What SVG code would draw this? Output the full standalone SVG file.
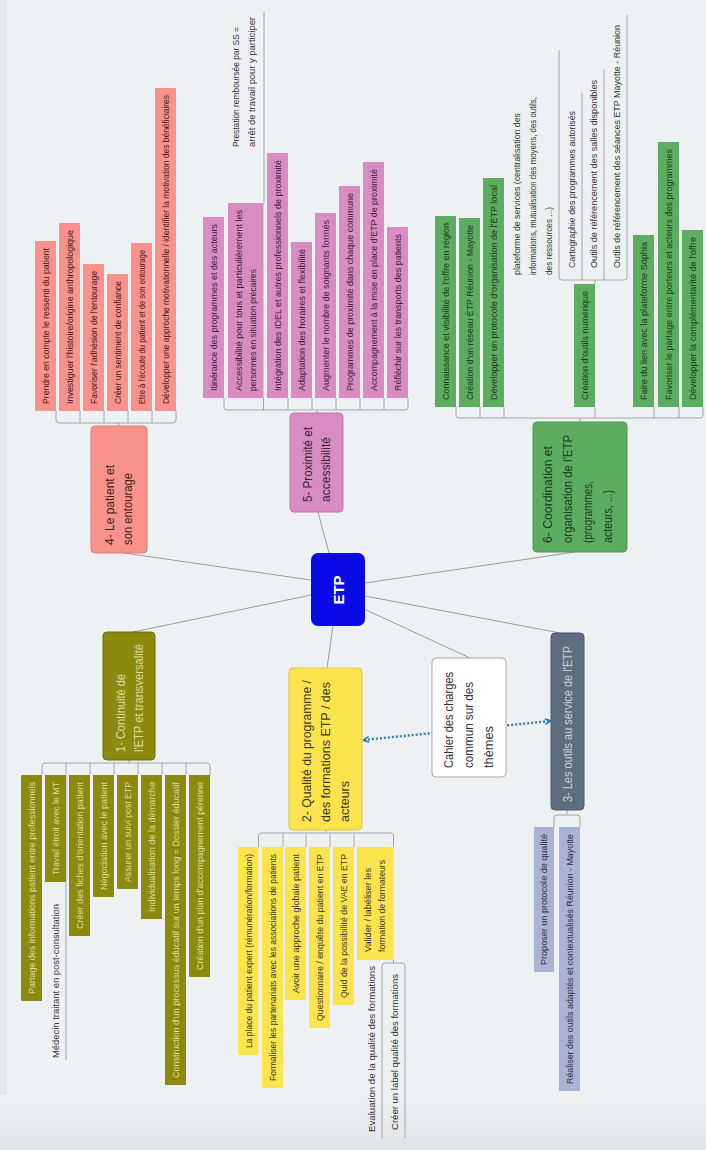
<svg xmlns="http://www.w3.org/2000/svg" width="706" height="1150" viewBox="0 0 706 1150">
<defs>
<linearGradient id="bot" x1="0" y1="0" x2="0" y2="1"><stop offset="0" stop-color="#eef1f3"/><stop offset="1" stop-color="#e1e4e6"/></linearGradient>
<marker id="arr" viewBox="0 0 10 10" refX="8" refY="5" markerWidth="7" markerHeight="7" markerUnits="userSpaceOnUse" orient="auto-start-reverse"><path d="M1,1 L9,5 L1,9" fill="none" stroke="#1f7cc4" stroke-width="2.2"/></marker>
</defs>
<style>
text{font-family:"Liberation Sans",Arial,sans-serif}
.s9{font-size:9px}
.s12{font-size:12px}
.ln{stroke:#9c9c9c;stroke-width:1;fill:none}
.br{stroke:#a4a4a4;stroke-width:1;fill:none}
.rel{stroke:#2a80c0;stroke-width:2.4;stroke-dasharray:2 2;fill:none}
.ol rect{fill:#8b8a0e}.ol text{fill:#dedba0}
.ye rect{fill:#fce44e}.ye text{fill:#3a3a30}
.sl rect{fill:#5e6e7c}.sl text{fill:#c8d0d8}
.lv rect{fill:#a8b3d6}.lv text{fill:#2e3340}
.sa rect{fill:#f8928a}.sa text{fill:#3a2424}
.pk rect{fill:#d98cc2}.pk text{fill:#3a2436}
.gr rect{fill:#5cad60}.gr text{fill:#1f3a1f}
.pl text{fill:#333}
.main rect{stroke-width:1}
</style>
<rect width="706" height="1150" fill="#eef1f3"/>
<rect x="0" y="0" width="7" height="1150" fill="#e4e7e9"/>
<rect x="0" y="1095" width="706" height="55" fill="url(#bot)"/>

<g id="connectors">
<path class="ln" d="M311,595 L133,632"/>
<path class="ln" d="M311,580 L124,553"/>
<path class="ln" d="M329,553 L318,512"/>
<path class="ln" d="M365,583 L575,552"/>
<path class="ln" d="M365,596 L560,633"/>
<path class="ln" d="M362,608 L470,658"/>
<path class="ln" d="M333,626 L327,668"/>
<path class="rel" d="M364,740 L550,721" marker-start="url(#arr)" marker-end="url(#arr)"/>
<!-- node 4 bracket -->
<path class="br" d="M56,411 V420 Q56,423 59,423 H173 Q176,423 176,420 V411 M80,423 V411 M104,423 V411 M128,423 V411 M152,423 V411 M119,423 V426"/>
<!-- node 5 bracket -->
<path class="br" d="M224,398 V407 Q224,410 227,410 H405 Q408,410 408,407 V398 M263.5,410 V398 M288,410 V398 M312,410 V398 M336,410 V398 M360,410 V398 M384,410 V398 M317,410 V413"/>
<path class="br" d="M264,203 V12"/>
<!-- node 6 bracket -->
<path class="br" d="M456,407 V415 Q456,418 459,418 H700 Q703,418 703,415 V407 M480,418 V407 M504,418 V407 M595,418 V407 M654,418 V407 M679,418 V407 M580,418 V422"/>
<path class="br" d="M559,50 V277 Q559,280 562,280 H624 Q627,280 627,277 V15 M582,280 V93 M604,280 V70 M595,280 V284"/>
<!-- node 1 bracket -->
<path class="br" d="M42,775 V766 Q42,763 45,763 H207 Q210,763 210,766 V775 M66,763 V1060 M90,763 V775 M114,763 V775 M138,763 V775 M162,763 V775 M186,763 V775 M129,760 V763"/>
<!-- node 2 bracket -->
<path class="br" d="M258.5,847 V836 Q258.5,833 261.5,833 H390.5 Q393.5,833 393.5,836 V847 M283,833 V847 M306,833 V847 M330,833 V847 M354,833 V847 M326,830 V833"/>
<path class="br" d="M382,1138 V966 Q382,963 385,963 H402 Q405,963 405,966 V1138 M393.5,960 V963"/>
<!-- node 3 bracket -->
<path class="br" d="M554,827 V818 Q554,815 557,815 H577 Q580,815 580,818 V827 M567,810 V815"/>
</g>

<g id="etp"><rect x="311" y="553" width="54" height="73" rx="7" fill="#0b0be8"/><text transform="translate(343.5,590) rotate(-90)" text-anchor="middle" font-size="15" font-weight="bold" fill="#ffffff">ETP</text></g>

<!-- Node 1 -->
<g id="n1" class="ol main"><rect x="103" y="632" width="52" height="128" rx="4" stroke="#6f6e08"/>
<text class="s12" transform="translate(125.2,752) rotate(-90)" textLength="78" lengthAdjust="spacingAndGlyphs">1- Continuité de</text>
<text class="s12" transform="translate(143.2,752) rotate(-90)" textLength="108" lengthAdjust="spacingAndGlyphs">l'ETP et transversalité</text></g>
<g id="n1a" class="ol"><rect x="21" y="775" width="21" height="226"/><text class="s9" transform="translate(34.7,994) rotate(-90)" textLength="212" lengthAdjust="spacingAndGlyphs">Partage des informations patient entre professionnels</text></g>
<g id="n1b" class="ol"><rect x="45" y="775" width="21" height="107"/><text class="s9" transform="translate(58.7,875) rotate(-90)" textLength="93" lengthAdjust="spacingAndGlyphs">Travail étroit avec le MT</text></g>
<g id="n1b1" class="pl"><text class="s9" transform="translate(59.2,1058) rotate(-90)" textLength="154" lengthAdjust="spacingAndGlyphs">Médecin traitant en post-consultation</text></g>
<g id="n1c" class="ol"><rect x="69" y="775" width="21" height="161"/><text class="s9" transform="translate(82.7,929) rotate(-90)" textLength="147" lengthAdjust="spacingAndGlyphs">Créer des fiches d'orientation patient</text></g>
<g id="n1d" class="ol"><rect x="93" y="775" width="21" height="122"/><text class="s9" transform="translate(106.7,890) rotate(-90)" textLength="108" lengthAdjust="spacingAndGlyphs">Négociation avec le patient</text></g>
<g id="n1e" class="ol"><rect x="117" y="775" width="21" height="114"/><text class="s9" transform="translate(130.7,882) rotate(-90)" textLength="100" lengthAdjust="spacingAndGlyphs">Assurer un suivi post ETP</text></g>
<g id="n1f" class="ol"><rect x="141" y="775" width="21" height="144"/><text class="s9" transform="translate(154.7,912) rotate(-90)" textLength="130" lengthAdjust="spacingAndGlyphs">Individualisation de la démarche</text></g>
<g id="n1g" class="ol"><rect x="165" y="775" width="21" height="310"/><text class="s9" transform="translate(178.7,1078) rotate(-90)" textLength="296" lengthAdjust="spacingAndGlyphs">Construction d'un processus éducatif sur un temps long = Dossier éducatif</text></g>
<g id="n1h" class="ol"><rect x="189" y="775" width="21" height="202"/><text class="s9" transform="translate(202.7,970) rotate(-90)" textLength="188" lengthAdjust="spacingAndGlyphs">Création d'un plan d'accompagnement pérenne</text></g>

<!-- Node 2 -->
<g id="n2" class="ye main"><rect x="289" y="668" width="73" height="162" rx="4" stroke="#e0c83a"/>
<text class="s12" transform="translate(311.4,822) rotate(-90)" textLength="142" lengthAdjust="spacingAndGlyphs">2- Qualité du programme /</text>
<text class="s12" transform="translate(330.4,822) rotate(-90)" textLength="140" lengthAdjust="spacingAndGlyphs">des formations ETP / des</text>
<text class="s12" transform="translate(349.4,822) rotate(-90)" textLength="41" lengthAdjust="spacingAndGlyphs">acteurs</text></g>
<g id="n2a" class="ye"><rect x="238" y="847" width="20.5" height="208"/><text class="s9" transform="translate(251.5,1048) rotate(-90)" textLength="194" lengthAdjust="spacingAndGlyphs">La place du patient expert (rémunération/formation)</text></g>
<g id="n2b" class="ye"><rect x="262" y="847" width="21" height="241"/><text class="s9" transform="translate(275.7,1081) rotate(-90)" textLength="227" lengthAdjust="spacingAndGlyphs">Formaliser les partenariats avec les associations de patients</text></g>
<g id="n2c" class="ye"><rect x="285" y="847" width="21" height="153"/><text class="s9" transform="translate(298.7,993) rotate(-90)" textLength="139" lengthAdjust="spacingAndGlyphs">Avoir une approche globale patient</text></g>
<g id="n2d" class="ye"><rect x="309" y="847" width="21" height="181"/><text class="s9" transform="translate(322.7,1021) rotate(-90)" textLength="167" lengthAdjust="spacingAndGlyphs">Questionnaire / enquête du patient en ETP</text></g>
<g id="n2e" class="ye"><rect x="333" y="847" width="21" height="158"/><text class="s9" transform="translate(346.7,998) rotate(-90)" textLength="144" lengthAdjust="spacingAndGlyphs">Quid de la possibilité de VAE en ETP</text></g>
<g id="n2f" class="ye"><rect x="357" y="847" width="36.5" height="113"/>
<text class="s9" transform="translate(371.2,952) rotate(-90)" textLength="84" lengthAdjust="spacingAndGlyphs">Valider / labéliser les</text>
<text class="s9" transform="translate(385.2,952) rotate(-90)" textLength="92" lengthAdjust="spacingAndGlyphs">formation de formateurs</text></g>
<g id="n2f1" class="pl"><text class="s9" transform="translate(375.2,1132) rotate(-90)" textLength="166" lengthAdjust="spacingAndGlyphs">Evaluation de la qualité des formations</text></g>
<g id="n2f2" class="pl"><text class="s9" transform="translate(398.2,1130) rotate(-90)" textLength="156" lengthAdjust="spacingAndGlyphs">Créer un label qualité des formations</text></g>

<!-- Cahier -->
<g id="cahier" class="pl"><rect x="432" y="658" width="74" height="119" rx="4" fill="#ffffff" stroke="#a8a8a8"/>
<text class="s12" transform="translate(453.2,768) rotate(-90)" textLength="96" lengthAdjust="spacingAndGlyphs">Cahier des charges</text>
<text class="s12" transform="translate(473.2,768) rotate(-90)" textLength="86" lengthAdjust="spacingAndGlyphs">commun sur des</text>
<text class="s12" transform="translate(493.2,768) rotate(-90)" textLength="42" lengthAdjust="spacingAndGlyphs">thèmes</text></g>

<!-- Node 3 -->
<g id="n3" class="sl main"><rect x="551" y="633" width="33" height="177" rx="4" stroke="#4c5a66"/>
<text class="s12" transform="translate(571.7,802) rotate(-90)" textLength="156" lengthAdjust="spacingAndGlyphs">3- Les outils au service de l'ETP</text></g>
<g id="n3a" class="lv"><rect x="534" y="827" width="20" height="145"/><text class="s9" transform="translate(547.2,965) rotate(-90)" textLength="131" lengthAdjust="spacingAndGlyphs">Proposer un protocole de qualité</text></g>
<g id="n3b" class="lv"><rect x="559" y="827" width="21" height="264"/><text class="s9" transform="translate(572.7,1084) rotate(-90)" textLength="250" lengthAdjust="spacingAndGlyphs">Réaliser des outils adaptés et contextualisés Réunion - Mayotte</text></g>

<!-- Node 4 -->
<g id="n4" class="sa main"><rect x="91" y="426" width="56" height="127" rx="4" stroke="#e07a72"/>
<text class="s12" transform="translate(114.2,545) rotate(-90)" textLength="80" lengthAdjust="spacingAndGlyphs">4- Le patient et</text>
<text class="s12" transform="translate(132.2,545) rotate(-90)" textLength="72" lengthAdjust="spacingAndGlyphs">son entourage</text></g>
<g id="n4a" class="sa"><rect x="35" y="241" width="21" height="170"/><text class="s9" transform="translate(48.7,404) rotate(-90)" textLength="156" lengthAdjust="spacingAndGlyphs">Prendre en compte le ressenti du patient</text></g>
<g id="n4b" class="sa"><rect x="59" y="223" width="21" height="188"/><text class="s9" transform="translate(72.7,404) rotate(-90)" textLength="174" lengthAdjust="spacingAndGlyphs">Investiguer l'histoire/origine anthropologique</text></g>
<g id="n4c" class="sa"><rect x="83" y="264" width="21" height="147"/><text class="s9" transform="translate(96.7,404) rotate(-90)" textLength="133" lengthAdjust="spacingAndGlyphs">Favoriser l'adhésion de l'entourage</text></g>
<g id="n4d" class="sa"><rect x="107" y="274" width="21" height="137"/><text class="s9" transform="translate(120.7,404) rotate(-90)" textLength="123" lengthAdjust="spacingAndGlyphs">Créer un sentiment de confiance</text></g>
<g id="n4e" class="sa"><rect x="131" y="243" width="21" height="168"/><text class="s9" transform="translate(144.7,404) rotate(-90)" textLength="154" lengthAdjust="spacingAndGlyphs">Etre à l'écoute du patient et de son entourage</text></g>
<g id="n4f" class="sa"><rect x="155" y="88" width="21" height="323"/><text class="s9" transform="translate(168.7,404) rotate(-90)" textLength="309" lengthAdjust="spacingAndGlyphs">Développer une approche motivationnelle / identifier la motivation des bénéficiaires</text></g>

<!-- Node 5 -->
<g id="n5" class="pk main"><rect x="290" y="413" width="53" height="99" rx="4" stroke="#c072a8"/>
<text class="s12" transform="translate(312.2,502) rotate(-90)" textLength="75" lengthAdjust="spacingAndGlyphs">5- Proximité et</text>
<text class="s12" transform="translate(330.2,502) rotate(-90)" textLength="65" lengthAdjust="spacingAndGlyphs">accessibilité</text></g>
<g id="n5a" class="pk"><rect x="203" y="217" width="21" height="181"/><text class="s9" transform="translate(216.7,391) rotate(-90)" textLength="167" lengthAdjust="spacingAndGlyphs">Itinérance des programmes et des acteurs</text></g>
<g id="n5b" class="pk"><rect x="228" y="203" width="35.5" height="195"/>
<text class="s9" transform="translate(241.7,391) rotate(-90)" textLength="181" lengthAdjust="spacingAndGlyphs">Accessibilité pour tous et particulièrement les</text>
<text class="s9" transform="translate(256.2,391) rotate(-90)" textLength="122" lengthAdjust="spacingAndGlyphs">personnes en situation précaires</text></g>
<g id="n5b1" class="pl">
<text class="s9" transform="translate(239.2,147) rotate(-90)" textLength="120" lengthAdjust="spacingAndGlyphs">Prestation remboursée par SS =</text>
<text class="s9" transform="translate(255.2,147) rotate(-90)" textLength="130" lengthAdjust="spacingAndGlyphs">arrêt de travail pour y participer</text></g>
<g id="n5c" class="pk"><rect x="267" y="153" width="21" height="245"/><text class="s9" transform="translate(280.7,391) rotate(-90)" textLength="231" lengthAdjust="spacingAndGlyphs">Intégration des IDEL et autres professionnels de proximité</text></g>
<g id="n5d" class="pk"><rect x="291" y="242" width="21" height="156"/><text class="s9" transform="translate(304.7,391) rotate(-90)" textLength="142" lengthAdjust="spacingAndGlyphs">Adaptation des horaires et flexibilité</text></g>
<g id="n5e" class="pk"><rect x="315" y="213" width="21" height="185"/><text class="s9" transform="translate(328.7,391) rotate(-90)" textLength="171" lengthAdjust="spacingAndGlyphs">Augmenter le nombre de soignants formés</text></g>
<g id="n5f" class="pk"><rect x="339" y="186" width="21" height="212"/><text class="s9" transform="translate(352.7,391) rotate(-90)" textLength="198" lengthAdjust="spacingAndGlyphs">Programmes de proximité dans chaque commune</text></g>
<g id="n5g" class="pk"><rect x="363" y="162" width="21" height="236"/><text class="s9" transform="translate(376.7,391) rotate(-90)" textLength="222" lengthAdjust="spacingAndGlyphs">Accompagnement à la mise en place d'ETP de proximité</text></g>
<g id="n5h" class="pk"><rect x="387" y="227" width="21" height="171"/><text class="s9" transform="translate(400.7,391) rotate(-90)" textLength="157" lengthAdjust="spacingAndGlyphs">Réfléchir sur les transports des patients</text></g>

<!-- Node 6 -->
<g id="n6" class="gr main"><rect x="533" y="422" width="94" height="130" rx="4" stroke="#4a9a4e"/>
<text class="s12" transform="translate(552.2,543) rotate(-90)" textLength="97" lengthAdjust="spacingAndGlyphs">6- Coordination et</text>
<text class="s12" transform="translate(572.2,543) rotate(-90)" textLength="108" lengthAdjust="spacingAndGlyphs">organisation de l'ETP</text>
<text class="s12" transform="translate(592.2,543) rotate(-90)" textLength="62" lengthAdjust="spacingAndGlyphs">(programmes,</text>
<text class="s12" transform="translate(612.2,543) rotate(-90)" textLength="53" lengthAdjust="spacingAndGlyphs">acteurs, ...)</text></g>
<g id="n6a" class="gr"><rect x="435" y="216" width="21" height="191"/><text class="s9" transform="translate(448.7,400) rotate(-90)" textLength="177" lengthAdjust="spacingAndGlyphs">Connaissance et visibilité de l'offre en région</text></g>
<g id="n6b" class="gr"><rect x="459" y="218" width="21" height="189"/><text class="s9" transform="translate(472.7,400) rotate(-90)" textLength="175" lengthAdjust="spacingAndGlyphs">Création d'un réseau ETP Réunion - Mayotte</text></g>
<g id="n6c" class="gr"><rect x="483" y="178" width="21" height="229"/><text class="s9" transform="translate(496.7,400) rotate(-90)" textLength="215" lengthAdjust="spacingAndGlyphs">Développer un protocole d'organisation de l'ETP local</text></g>
<g id="n6d" class="gr"><rect x="574" y="284" width="21" height="123"/><text class="s9" transform="translate(587.7,400) rotate(-90)" textLength="109" lengthAdjust="spacingAndGlyphs">Création d'outils numérique</text></g>
<g id="n6d1" class="pl">
<text class="s9" transform="translate(520.2,275) rotate(-90)" textLength="162" lengthAdjust="spacingAndGlyphs">plateforme de services (centralisation des</text>
<text class="s9" transform="translate(536.2,275) rotate(-90)" textLength="178" lengthAdjust="spacingAndGlyphs">informations, mutualisation des moyens, des outils,</text>
<text class="s9" transform="translate(552.2,275) rotate(-90)" textLength="68" lengthAdjust="spacingAndGlyphs">des ressources ...)</text></g>
<g id="n6d2" class="pl"><text class="s9" transform="translate(575.2,268) rotate(-90)" textLength="157" lengthAdjust="spacingAndGlyphs">Cartographie des programmes autorisés</text></g>
<g id="n6d3" class="pl"><text class="s9" transform="translate(597.2,268) rotate(-90)" textLength="188" lengthAdjust="spacingAndGlyphs">Outils de référencement des salles disponibles</text></g>
<g id="n6d4" class="pl"><text class="s9" transform="translate(620.2,268) rotate(-90)" textLength="243" lengthAdjust="spacingAndGlyphs">Outils de référencement des séances ETP Mayotte - Réunion</text></g>
<g id="n6e" class="gr"><rect x="633" y="235" width="21" height="172"/><text class="s9" transform="translate(646.7,400) rotate(-90)" textLength="158" lengthAdjust="spacingAndGlyphs">Faire du lien avec la plateforme Sophia</text></g>
<g id="n6f" class="gr"><rect x="658" y="142" width="21" height="265"/><text class="s9" transform="translate(671.7,400) rotate(-90)" textLength="251" lengthAdjust="spacingAndGlyphs">Favoriser le partage entre porteurs et acteurs des programmes</text></g>
<g id="n6g" class="gr"><rect x="682" y="230" width="21" height="177"/><text class="s9" transform="translate(695.7,400) rotate(-90)" textLength="163" lengthAdjust="spacingAndGlyphs">Développer la complémentarité de l'offre</text></g>
</svg>
